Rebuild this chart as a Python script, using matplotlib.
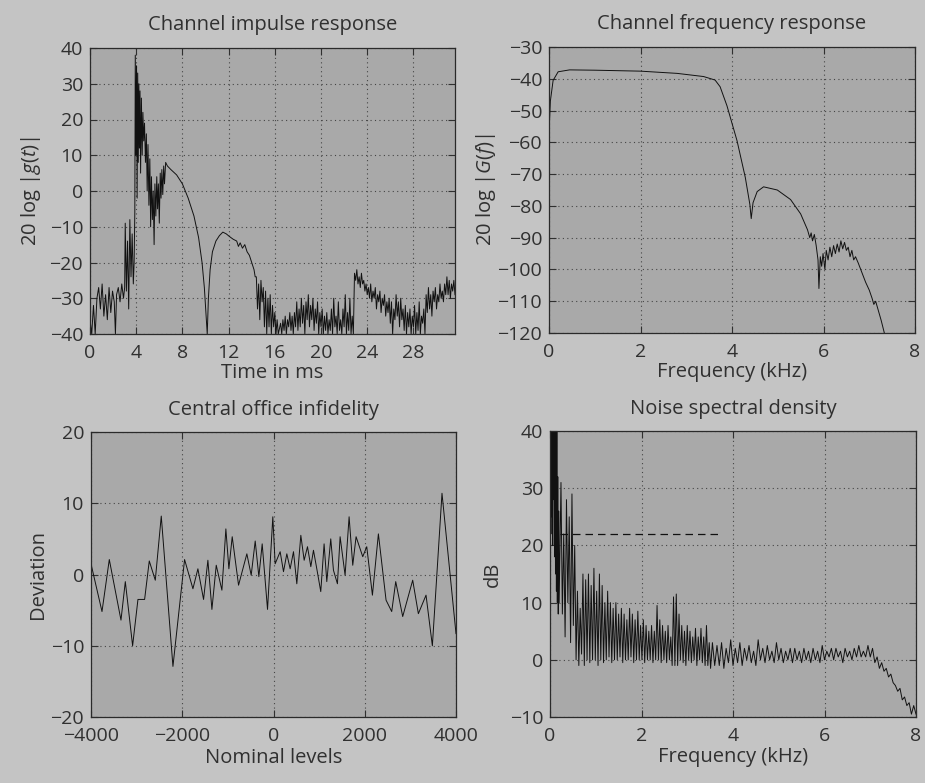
import matplotlib
matplotlib.use("Agg")
import matplotlib.pyplot as plt

plt.rcParams["font.family"] = ["Open Sans", "DejaVu Sans"]
plt.rcParams["mathtext.fontset"] = "custom"
plt.rcParams["mathtext.rm"] = "Open Sans"
plt.rcParams["mathtext.it"] = "Open Sans:italic"

# Channel impulse response (ms, dB)
t_imp = [0.00, 0.15, 0.30, 0.45, 0.60, 0.75, 0.90, 1.05, 1.20, 1.35, 1.50, 1.65, 1.80, 1.95, 2.10, 2.20,
         2.30, 2.45, 2.60, 2.75, 2.90, 3.00, 3.05, 3.15, 3.25, 3.35, 3.45, 3.55, 3.65, 3.75, 3.82, 3.88,
         3.92, 3.98, 4.03, 4.08, 4.13, 4.18, 4.23, 4.28, 4.33, 4.38, 4.45, 4.52, 4.58, 4.65, 4.72, 4.80,
         4.88, 4.95, 5.02, 5.10, 5.18, 5.25, 5.32, 5.40, 5.47, 5.55, 5.62, 5.70, 5.78, 5.85, 5.92, 6.00,
         6.08, 6.15, 6.22, 6.30, 6.38, 6.45, 6.55, 6.70, 7.0, 7.5, 8.0, 8.5, 9.0, 9.4, 9.7, 9.9, 10.05,
         10.15, 10.25, 10.40, 10.60, 10.90, 11.2, 11.5, 11.8, 12.1, 12.4, 12.7, 12.85, 13.0, 13.2, 13.4,
         13.6, 13.8, 14.0, 14.2, 14.3,
         14.4, 14.5, 14.6, 14.7, 14.8, 14.9, 15.0, 15.1, 15.2, 15.3, 15.4, 15.5, 15.6, 15.7, 15.8, 15.9,
         16.0, 16.1, 16.2, 16.3, 16.5, 16.6, 16.7, 16.8, 16.9, 17.0, 17.1, 17.2, 17.3, 17.4, 17.5, 17.6,
         17.7, 17.8, 17.9, 18.0, 18.1, 18.2, 18.3, 18.4, 18.5, 18.6, 18.7, 18.8, 18.9, 19.0, 19.1, 19.2,
         19.3, 19.4, 19.5, 19.6, 19.7, 19.8, 19.9, 20.0, 20.1, 20.2, 20.3, 20.4, 20.5, 20.6, 20.7, 20.8,
         20.9, 21.0, 21.1, 21.2, 21.3, 21.4, 21.5, 21.6, 21.7, 21.8, 21.9, 22.0, 22.1, 22.2, 22.3, 22.4,
         22.5, 22.6, 22.7, 22.8, 22.9, 23.0, 23.1, 23.2, 23.3, 23.4, 23.5, 23.6, 23.7, 23.8, 23.9, 24.0,
         24.1, 24.2, 24.3, 24.4, 24.5, 24.6, 24.7, 24.8, 24.9, 25.0, 25.1, 25.2, 25.3, 25.4, 25.5, 25.6,
         25.7, 25.8, 25.9, 26.0, 26.1, 26.2, 26.3, 26.4, 26.5, 26.6, 26.7, 26.8, 26.9, 27.0, 27.1, 27.2,
         27.3, 27.4, 27.5, 27.6, 27.7, 27.8, 27.9, 28.0, 28.1, 28.2, 28.3, 28.4, 28.5, 28.6, 28.7, 28.8,
         28.9, 29.0, 29.1, 29.2, 29.3, 29.4, 29.5, 29.6, 29.7, 29.8, 29.9, 30.0, 30.1, 30.2, 30.3, 30.4,
         30.5, 30.6, 30.7, 30.8, 30.9, 31.0, 31.1, 31.2, 31.3, 31.4, 31.5, 31.6]
g_imp = [-36, -40, -32, -40, -30, -27, -33, -26, -35, -29, -36, -27, -34, -28, -31, -40,
         -29, -27, -31, -26, -30, -27, -9, -28, -14, -33, -8, -24, -12, -26, -20, -6,
         38, 10, 35, -2, 33, 8, 30, 12, 28, 5, 26, 10, 22, 14, 19, 8,
         16, 0, 13, -4, 9, -10, 4, -8, 0, -15, 2, -7, 4, -5, 2, -9,
         5, -2, 6, -1, 7, 2, 8, 7, 6, 4.5, 2, -2, -7, -13, -20, -27, -35,
         -40, -30, -22, -17, -14, -12.5, -11.5, -12, -12.8, -13.5, -14, -15.5, -14.5, -16, -15,
         -17, -18, -20, -22, -24,
         -24, -33, -26, -36, -25, -31, -27, -38, -28, -40, -30, -38, -29, -40, -32, -38,
         -34, -40, -36, -40, -37, -40, -36, -39, -35, -40, -36, -38, -34, -39, -35, -40,
         -34, -38, -31, -39, -33, -38, -30, -37, -32, -40, -31, -36, -29, -38, -32, -36,
         -30, -39, -33, -37, -31, -40, -34, -38, -33, -40, -35, -39, -34, -40, -36, -39,
         -33, -40, -30, -38, -35, -40, -31, -39, -36, -40, -33, -38, -29, -40, -34, -39,
         -30, -40, -35, -40, -23, -25, -22, -26, -24, -27, -23, -26, -25, -28, -26, -29,
         -27, -30, -26, -31, -28, -30, -27, -33, -29, -31, -28, -34, -30, -32, -29, -35,
         -31, -34, -30, -37, -31, -40, -33, -36, -29, -35, -31, -38, -30, -36, -33, -39,
         -32, -40, -34, -38, -33, -40, -35, -38, -32, -40, -34, -39, -31, -40, -35, -37,
         -33, -40, -29, -34, -27, -33, -29, -35, -28, -31, -27, -33, -29, -31, -26, -30,
         -28, -31, -26, -29, -24, -29, -25, -30, -26, -28, -25, -29]

# Channel frequency response (kHz, dB)
f_chan = [0, 0.03, 0.09, 0.2, 0.45, 1.0, 2.0, 2.8, 3.38, 3.63, 3.74, 3.89, 4.11, 4.29, 4.39, 4.42,
          4.46, 4.55, 4.69, 4.99, 5.28, 5.5, 5.65, 5.70, 5.73, 5.76, 5.80, 5.84, 5.88, 5.90, 5.93,
          5.96, 5.99, 6.03, 6.06, 6.10, 6.14, 6.18, 6.22, 6.26, 6.30, 6.34, 6.38, 6.42, 6.46, 6.50,
          6.54, 6.58, 6.62, 6.66, 6.70, 6.76, 6.84, 6.92, 7.0, 7.06, 7.10, 7.14, 7.2, 7.26, 7.33]
g_chan = [-57, -47, -40.5, -37.8, -37.2, -37.3, -37.6, -38.3, -39.3, -40.4, -42.5, -48.5, -59.5,
          -71, -79.5, -84, -79, -75.5, -74, -75, -78, -82.5, -87.5, -90, -88.5, -91, -89, -92.5,
          -97, -106, -96, -99, -95, -100, -94, -97, -93, -96, -92.5, -95, -92, -94.5, -91, -93.5,
          -91.5, -94, -93, -96, -94, -97, -96, -98, -101, -104, -106.5, -109, -111, -110, -113,
          -116, -120]

# Central office infidelity
levels = [-4000, -3759, -3599, -3343, -3248, -3088, -2971, -2825, -2723, -2591, -2460, -2204,
          -1949, -1766, -1657, -1533, -1438, -1350, -1255, -1131, -1044, -978, -905, -766, -584,
          -489, -401, -321, -248, -131, -15, 36, 146, 219, 292, 365, 438, 511, 599, 672, 745, 818,
          876, 949, 1036, 1109, 1168, 1255, 1314, 1401, 1460, 1569, 1657, 1737, 1810, 1956, 2044,
          2168, 2299, 2467, 2591, 2679, 2832, 3051, 3175, 3343, 3482, 3693, 4000]
deviation = [1.5, -5.2, 2.1, -6.4, -1, -10, -3.5, -3.5, 1.9, -0.8, 8.2, -12.9, 2.1, -2, 0.8,
             -3.5, 2, -4.9, 1.3, -2.2, 6.4, 0.8, 5.3, -1.5, 2.9, -0.1, 4.7, -0.3, 4.3, -4.9, 8.1,
             1.5, 3.2, 0.4, 2.9, 0.8, 3.2, -1.3, 5.5, 2, 3.9, 1.1, 3.4, 0.8, -2.4, 4.3, -1, 5,
             0.6, -1.3, 5.3, -0.1, 8.1, 1.3, 5.3, 2.5, 3.9, -2.9, 5.7, -3.6, -5.2, -1, -5.9, -0.8,
             -5.5, -2.9, -10, 11.4, -8.3]

# Noise spectral density (kHz, dB)
f_noise = [0.00, 0.01, 0.02, 0.03, 0.04, 0.05, 0.06, 0.07, 0.08, 0.09, 0.10, 0.11, 0.12, 0.13,
           0.14, 0.15, 0.16, 0.17, 0.18, 0.19, 0.20, 0.24, 0.27, 0.30, 0.33, 0.36, 0.39, 0.42,
           0.45, 0.48, 0.51, 0.54, 0.57, 0.60, 0.63, 0.66, 0.69, 0.72, 0.75, 0.78, 0.81, 0.84,
           0.87, 0.90, 0.93, 0.96, 0.99, 1.02, 1.05, 1.08, 1.11, 1.14, 1.17, 1.20, 1.23, 1.26,
           1.29, 1.32, 1.35, 1.38, 1.41, 1.44, 1.47, 1.50, 1.53, 1.56, 1.59, 1.62, 1.65, 1.68,
           1.71, 1.74, 1.77, 1.80, 1.83, 1.86, 1.89, 1.92, 1.95, 1.98, 2.01, 2.04, 2.07, 2.10,
           2.13, 2.16, 2.19, 2.22, 2.25, 2.28, 2.31, 2.34, 2.37, 2.40, 2.43, 2.46, 2.49, 2.52,
           2.55, 2.58, 2.61, 2.64, 2.67, 2.70, 2.73, 2.76, 2.79, 2.82, 2.85, 2.88, 2.91, 2.94,
           2.97, 3.00, 3.03, 3.06, 3.09, 3.12, 3.15, 3.18, 3.21, 3.24, 3.27, 3.30, 3.33, 3.36,
           3.39, 3.42, 3.45, 3.48, 3.51, 3.55, 3.60, 3.65, 3.70, 3.75, 3.80, 3.85, 3.90, 3.95,
           4.00, 4.05, 4.10, 4.15, 4.20, 4.25, 4.30, 4.35, 4.40, 4.45, 4.50, 4.55, 4.60, 4.65,
           4.70, 4.75, 4.80, 4.85, 4.90, 4.95, 5.00, 5.05, 5.10, 5.15, 5.20, 5.25, 5.30, 5.35,
           5.40, 5.45, 5.50, 5.55, 5.60, 5.65, 5.70, 5.75, 5.80, 5.85, 5.90, 5.95, 6.00, 6.05,
           6.10, 6.15, 6.20, 6.25, 6.30, 6.35, 6.40, 6.45, 6.50, 6.55, 6.60, 6.65, 6.70, 6.75,
           6.80, 6.85, 6.90, 6.95, 7.00, 7.05, 7.10, 7.15, 7.20, 7.25, 7.30, 7.35, 7.40, 7.45,
           7.50, 7.55, 7.60, 7.65, 7.70, 7.75, 7.80, 7.85, 7.90, 7.95, 8.00]
db_noise = [17, 40, 22, 40, 25, 40, 20, 40, 28, 40, 18, 40, 15, 38, 12, 40, 10, 32, 8, 26,
            10, 31, 8, 22, 4, 28, 10, 25, 3, 29, 6, 20, 0, 12, -1, 9, 1, 15, -1, 14, 0, 15,
            -0.5, 13, 0, 16, 0, 12, -1, 15, 0, 13, -0.5, 10, 0, 12, 0.5, 10, -0.5, 9, 0, 10,
            0, 8, 0.5, 9, -0.5, 8, 0, 7, 0, 9, 0.5, 8, -0.5, 7, 0, 8.5, 0, 6, 0, 7, -0.5, 6,
            0, 5, 0, 6, -0.5, 5, 0, 9.5, 0, 7, -0.5, 6, 0, 5, -0.5, 6, 0, 4, -1, 11, -1, 11.5,
            -1, 8, 0, 6, -0.5, 5, -1, 6, 0, 5, -0.5, 4, 0, 5.5, -1, 4, 0, 5.5, -0.5, 4, -1, 6,
            -1, 3, -1.5, 3, -1, 2.5, -1, 3, -1.5, 2, -0.5, 3.5, -1, 2, -0.5, 3, -1, 2, 0, 2.5,
            -0.5, 1.5, -1, 3.5, 0, 2, -0.5, 2.5, 0, 1.5, -0.5, 3, 0, 2, -0.5, 1.5, 0, 2, -0.5,
            2, 0, 1.5, -0.5, 2, 0, 1.5, -0.5, 2, 0, 1.5, -0.5, 2.5, 0, 1.5, 0.5, 2, 0, 2, 0.5,
            1.5, -0.5, 2, 0.5, 1.5, 0, 2, 0.5, 2.5, 0.5, 1.5, 0.5, 2.5, 0.5, 2, -0.5, 0.5, -1.5,
            -0.5, -2, -1.5, -3, -2.5, -4, -4.5, -5.5, -5, -7, -6.5, -8, -7.5, -9.5, -8, -9.5]
ref_f = [0.22, 3.72]
ref_db = [22, 22]

fig_bg = "#c4c4c4"
ax_bg = "#a9a9a9"
ink = "#303030"
line_c = "#111111"
fs = 14.5

fig = plt.figure(figsize=(9.25, 7.83), dpi=100, facecolor=fig_bg)
axs = [
    fig.add_axes([90 / 925, 1 - 334 / 783, 365 / 925, 286 / 783]),
    fig.add_axes([549 / 925, 1 - 333 / 783, 366 / 925, 286 / 783]),
    fig.add_axes([91 / 925, 1 - 717 / 783, 365 / 925, 285 / 783]),
    fig.add_axes([550 / 925, 1 - 717 / 783, 366 / 925, 286 / 783]),
]

for ax in axs:
    ax.set_facecolor(ax_bg)
    ax.grid(True, linestyle=(0, (1, 3)), color="#454545", linewidth=0.8)
    ax.tick_params(direction="in", top=True, right=True, length=5, width=0.8,
                   colors=ink, labelsize=14)
    ax.tick_params(axis="x", pad=7)
    ax.tick_params(axis="y", pad=5)
    for s in ax.spines.values():
        s.set_color("#2a2a2a")
        s.set_linewidth(0.9)

# Panel 1
ax = axs[0]
ax.plot(t_imp, g_imp, color=line_c, linewidth=0.7)
ax.set_xlim(0, 31.6)
ax.set_ylim(-40, 40)
ax.set_xticks([0, 4, 8, 12, 16, 20, 24, 28])
ax.set_yticks(range(-40, 41, 10))
ax.set_title("Channel impulse response", fontsize=fs, color=ink, pad=13)
ax.set_xlabel("Time in ms", fontsize=fs, color=ink)
ax.set_ylabel(r"20 log |$g(t)$|", fontsize=fs, color=ink)

# Panel 2
ax = axs[1]
ax.plot(f_chan, g_chan, color=line_c, linewidth=0.7)
ax.set_xlim(0, 8)
ax.set_ylim(-120, -30)
ax.set_xticks([0, 2, 4, 6, 8])
ax.set_yticks(range(-120, -29, 10))
ax.set_title("Channel frequency response", fontsize=fs, color=ink, pad=13)
ax.set_xlabel("Frequency (kHz)", fontsize=fs, color=ink)
ax.set_ylabel(r"20 log |$G(f)$|", fontsize=fs, color=ink)

# Panel 3
ax = axs[2]
ax.plot(levels, deviation, color=line_c, linewidth=0.7)
ax.set_xlim(-4000, 4000)
ax.set_ylim(-20, 20)
ax.set_xticks([-4000, -2000, 0, 2000, 4000])
ax.set_yticks([-20, -10, 0, 10, 20])
ax.set_title("Central office infidelity", fontsize=fs, color=ink, pad=12)
ax.set_xlabel("Nominal levels", fontsize=fs, color=ink)
ax.set_ylabel("Deviation", fontsize=fs, color=ink)

# Panel 4
ax = axs[3]
ax.plot(f_noise, db_noise, color=line_c, linewidth=0.7)
ax.plot(ref_f, ref_db, color=line_c, linewidth=0.9, linestyle=(0, (6, 4)))
ax.set_xlim(0, 8)
ax.set_ylim(-10, 40)
ax.set_xticks([0, 2, 4, 6, 8])
ax.set_yticks(range(-10, 41, 10))
ax.set_title("Noise spectral density", fontsize=fs, color=ink, pad=12)
ax.set_xlabel("Frequency (kHz)", fontsize=fs, color=ink)
ax.set_ylabel("dB", fontsize=fs, color=ink)

for ax, lx, xy in zip(axs, [-0.13, -0.14, -0.118, -0.13], [-0.1, -0.1, -0.108, -0.105]):
    ax.yaxis.set_label_coords(lx, 0.5)
    ax.xaxis.set_label_coords(0.5, xy)

fig.savefig("out.png", dpi=100, facecolor=fig_bg)
